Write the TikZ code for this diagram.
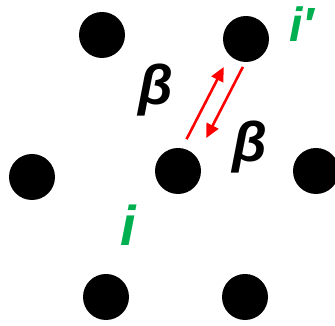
\documentclass[tikz,border=0pt]{standalone}
\usepackage{fontspec}
\setmainfont{Liberation Sans}
\usepackage{tikz}
\usetikzlibrary{positioning}
\usetikzlibrary{calc,arrows.meta}
\definecolor{site-green}{HTML}{00B050}
\definecolor{hop-red}{HTML}{FF0000}
\tikzset{site/.style={circle,fill=black,inner sep=0pt,minimum size=46pt}}
\tikzset{lbl/.style={inner sep=0pt,font=\fontsize{56}{60}\selectfont\bfseries\itshape}}
\tikzset{hop/.style={-{Triangle[length=14pt,width=13pt]}, hop-red, line width=2.6pt}}

\begin{document}
\begin{tikzpicture}[x=1pt,y=1pt]

  \useasboundingbox (0,0) rectangle (335,326);

  % Lattice sites
  \node (tl) [site] at (102,291) {};
  \node (ip) [site] at (246,287) {};
  \node (ml) [site] at (32,149) {};
  \node (c)  [site] at (178,155) {};
  \node (mr) [site] at (316,155) {};
  \node (bl) [site] at (106,29) {};
  \node (br) [site] at (245,29) {};

  % Labels
  \node (b1) [lbl] at (156,236) {β};
  \node (b2) [lbl] at (250,179) {β};
  \node (li) [lbl, site-green] at (128,101) {i};
  \node (lip) [lbl, site-green, font=\fontsize{48}{52}\selectfont\bfseries\itshape] at (302,302) {i′};

  % Hopping between i and i'
  \draw[hop, shorten <=9pt, shorten >=12pt,
    transform canvas={shift={(-6.2pt,3.2pt)}}] (c) -- (ip);
  \draw[hop, shorten <=3pt, shorten >=19pt,
    transform canvas={shift={(8.9pt,-4.6pt)}}] (ip) -- (c);

\end{tikzpicture}
\end{document}
